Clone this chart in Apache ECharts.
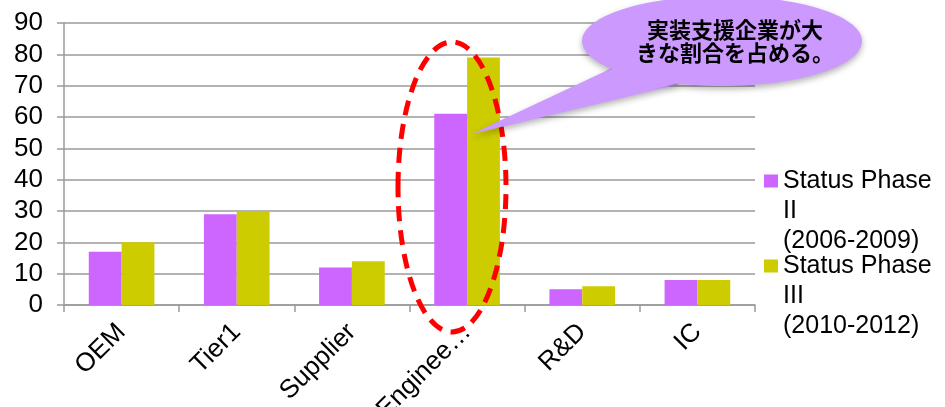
<!DOCTYPE html>
<html>
<head>
<meta charset="utf-8">
<script src="https://cdn.jsdelivr.net/npm/echarts@6/dist/echarts.min.js"></script>
<style>
  html, body { margin: 0; padding: 0; background: #fff; }
  #chart { width: 945px; height: 407px; }
</style>
</head>
<body>
<div id="chart"></div>
<script>
// Categories along the x axis
const categories = ['OEM', 'Tier1', 'Supplier', 'Enginee…', 'R&D', 'IC'];
// Series names and values
const phase2Name = 'Status Phase\nII\n(2006-2009)';
const phase3Name = 'Status Phase\nIII\n(2010-2012)';
const phase2Values = [17, 29, 12, 61, 5, 8];
const phase3Values = [20, 30, 14, 79, 6, 8];
// Value axis ticks
const yMin = 0, yMax = 90, yStep = 10;
// Callout text
const calloutLines = ['実装支援企業が大', 'きな割合を占める。'];

const FONT = '"Liberation Sans", Arial, sans-serif';
const GRID = '#9a9a9a';
const PURPLE = '#cc66ff';
const OLIVE = '#cccc00';
const BUBBLE = '#cc99ff';

// Legend icon: a square in the upper part of a tall box, so it lines up with the first text line
const legendIcon = 'path://M0,8.5h13v13h-13Z M0,0h0.01 M0,90h0.01';

const chart = echarts.init(document.getElementById('chart'), null, { renderer: 'canvas' });

const shadow = { shadowBlur: 6, shadowOffsetY: 3, shadowColor: 'rgba(0,0,0,0.3)' };

chart.setOption({
  animation: false,
  backgroundColor: '#ffffff',
  grid: { left: 64, right: 190, top: 23, bottom: 102, containLabel: false, outerBoundsMode: 'none' },
  legend: {
    orient: 'vertical',
    left: 764,
    top: 166,
    padding: 0,
    itemGap: -5,
    itemWidth: 14,
    itemHeight: 90,
    symbolKeepAspect: false,
    icon: legendIcon,
    textStyle: { fontFamily: FONT, fontSize: 25, color: '#000', lineHeight: 30 },
    data: [phase2Name, phase3Name]
  },
  xAxis: {
    type: 'category',
    data: categories,
    axisLine: { lineStyle: { color: GRID, width: 1.5 } },
    axisTick: { show: true, length: 7, lineStyle: { color: GRID, width: 1.5 } },
    axisLabel: {
      rotate: 45, interval: 0, margin: 23,
      fontFamily: FONT, fontSize: 26, color: '#000'
    }
  },
  yAxis: {
    type: 'value',
    min: yMin, max: yMax, interval: yStep,
    axisLine: { show: true, lineStyle: { color: GRID, width: 1.5 } },
    axisTick: { show: true, length: 7, lineStyle: { color: GRID, width: 1.5 } },
    splitLine: { lineStyle: { color: GRID, width: 1.5 } },
    axisLabel: { margin: 21, fontFamily: FONT, fontSize: 26, color: '#000' }
  },
  series: [
    {
      name: phase2Name, type: 'bar', data: phase2Values,
      barGap: '0%', barCategoryGap: '43%',
      itemStyle: { color: PURPLE }
    },
    {
      name: phase3Name, type: 'bar', data: phase3Values,
      barGap: '0%', barCategoryGap: '43%',
      itemStyle: { color: OLIVE }
    }
  ],
  graphic: [
    // dashed red ring around the Engineering bars
    {
      type: 'ellipse', z: 100,
      shape: { cx: 452, cy: 187, rx: 54, ry: 145 },
      style: { fill: 'none', stroke: '#ff0000', lineWidth: 5, lineDash: [15, 9] }
    },
    // speech bubble: tail + body
    {
      type: 'polygon', z: 110,
      shape: { points: [[472, 134], [625, 62], [680, 84]] },
      style: Object.assign({ fill: BUBBLE }, shadow)
    },
    {
      type: 'ellipse', z: 111,
      shape: { cx: 722, cy: 41, rx: 140, ry: 45 },
      style: Object.assign({ fill: BUBBLE }, shadow)
    },
    {
      type: 'polygon', z: 112,
      shape: { points: [[474, 133], [625, 63], [678, 83]] },
      style: { fill: BUBBLE }
    },
    {
      type: 'text', z: 113,
      x: 735, y: 41,
      style: {
        text: calloutLines.join('\n'),
        fontFamily: '"Noto Sans CJK JP", sans-serif',
        fontWeight: 'bold', fontSize: 22, lineHeight: 23,
        fill: '#000', align: 'center', verticalAlign: 'middle'
      }
    }
  ]
});
</script>
</body>
</html>
